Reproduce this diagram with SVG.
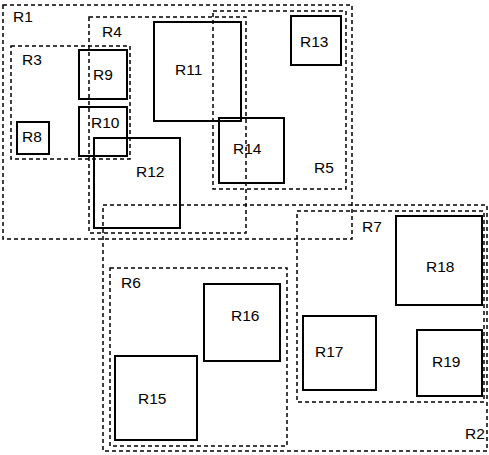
<svg xmlns="http://www.w3.org/2000/svg" width="489" height="455" viewBox="0 0 489 455">
<style>
.d{fill:none;stroke:#000;stroke-width:1.5;stroke-dasharray:4 3}
.s{fill:none;stroke:#000;stroke-width:2}
text{font-family:"Liberation Sans",Arial,sans-serif;font-size:15.5px;fill:#000}
</style>
<rect width="489" height="455" fill="#fff"/>
<g id="R1"><rect class="d" x="3" y="5" width="349" height="234"/><text x="13" y="22">R1</text></g>
<g id="R2"><rect class="d" x="103" y="205" width="384" height="246"/><text x="465" y="439">R2</text></g>
<g id="R3"><rect class="d" x="11" y="46" width="119" height="113"/><text x="22" y="65">R3</text></g>
<g id="R4"><rect class="d" x="89" y="17" width="157" height="216"/><text x="102" y="37">R4</text></g>
<g id="R5"><rect class="d" x="213" y="11" width="133" height="178"/><text x="314" y="173">R5</text></g>
<g id="R6"><rect class="d" x="110" y="268" width="177" height="178"/><text x="121" y="288">R6</text></g>
<g id="R7"><rect class="d" x="297" y="211" width="187" height="191"/><text x="362" y="232">R7</text></g>
<g id="R8"><rect class="s" x="17" y="122" width="32" height="32"/><text x="22" y="142">R8</text></g>
<g id="R9"><rect class="s" x="79" y="50" width="48" height="49"/><text x="93" y="80">R9</text></g>
<g id="R10"><rect class="s" x="79" y="107" width="48" height="49"/><text x="91" y="128">R10</text></g>
<g id="R11"><rect class="s" x="154" y="22" width="87" height="99"/><text x="175" y="75">R11</text></g>
<g id="R12"><rect class="s" x="94" y="138" width="86" height="90"/><text x="136" y="177">R12</text></g>
<g id="R13"><rect class="s" x="291" y="16" width="50" height="49"/><text x="300" y="47">R13</text></g>
<g id="R14"><rect class="s" x="219" y="118" width="65" height="65"/><text x="233" y="154">R14</text></g>
<g id="R15"><rect class="s" x="115" y="356" width="82" height="84"/><text x="138" y="404">R15</text></g>
<g id="R16"><rect class="s" x="204" y="284" width="76" height="77"/><text x="231" y="321">R16</text></g>
<g id="R17"><rect class="s" x="303" y="316" width="73" height="74"/><text x="315" y="357">R17</text></g>
<g id="R18"><rect class="s" x="396" y="216" width="86" height="89"/><text x="426" y="272">R18</text></g>
<g id="R19"><rect class="s" x="417" y="330" width="65" height="66"/><text x="432" y="367">R19</text></g>
<g id="connectors"/>
</svg>
